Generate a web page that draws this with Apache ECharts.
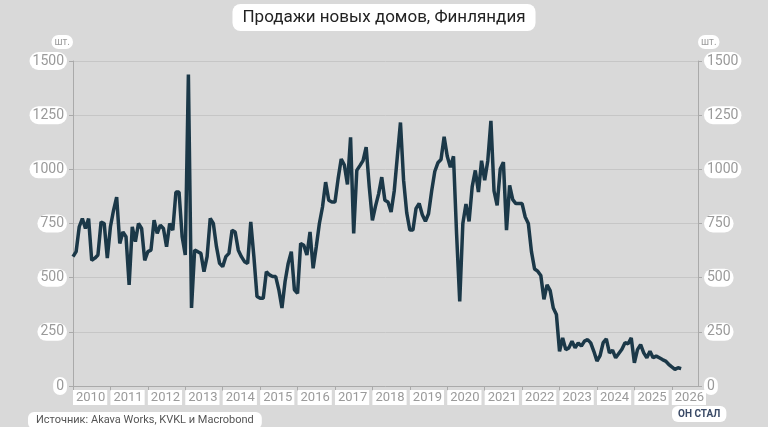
<!DOCTYPE html>
<html>
<head>
<meta charset="utf-8">
<script src="https://cdn.jsdelivr.net/npm/echarts@6/dist/echarts.min.js"></script>
<style>
  html, body { margin: 0; padding: 0; background: #d9d9d9; }
  #chart { width: 768px; height: 427px; }
</style>
</head>
<body>
<div id="chart"></div>
<script>
// продажи по месяцам, шт.
const startYear = 2010;
const y2010 = [597, 620, 735, 773, 727, 773, 580, 590, 605, 757, 750, 590];
const y2011 = [735, 811, 872, 658, 711, 689, 467, 735, 666, 750, 727, 580];
const y2012 = [620, 627, 765, 704, 742, 727, 643, 750, 719, 895, 895, 689];
const y2013 = [605, 1438, 360, 627, 620, 612, 528, 597, 773, 750, 643, 566];
const y2014 = [551, 597, 612, 719, 711, 627, 597, 574, 566, 757, 597, 413];
const y2015 = [405, 405, 528, 513, 505, 505, 444, 360, 482, 566, 620, 444];
const y2016 = [428, 658, 650, 605, 711, 543, 643, 750, 826, 941, 857, 849];
const y2017 = [849, 956, 1048, 1020, 930, 1148, 704, 995, 1017, 1040, 1102, 918];
const y2018 = [765, 830, 887, 964, 857, 849, 803, 900, 1060, 1216, 950, 800];
const y2019 = [720, 720, 820, 842, 790, 760, 795, 900, 990, 1030, 1045, 1150];
const y2020 = [1060, 1010, 1060, 700, 390, 750, 840, 760, 920, 995, 895, 1040];
const y2021 = [950, 1040, 1224, 900, 834, 1002, 1033, 719, 926, 860, 842, 842];
const y2022 = [842, 780, 750, 620, 540, 530, 510, 400, 467, 440, 360, 330];
const y2023 = [160, 222, 168, 176, 207, 176, 199, 184, 207, 214, 199, 160];
const y2024 = [115, 140, 200, 217, 153, 165, 130, 150, 170, 200, 195, 222];
const y2025 = [107, 168, 191, 153, 130, 161, 130, 138, 130, 122, 115, 100];
const y2026 = [88, 77, 84, 80];
const yTicks = [0, 250, 500, 750, 1000, 1250, 1500];

const years = [y2010, y2011, y2012, y2013, y2014, y2015, y2016, y2017, y2018,
  y2019, y2020, y2021, y2022, y2023, y2024, y2025, y2026];
const points = [];
years.forEach(function (arr, i) {
  arr.forEach(function (v, m) {
    points.push([startYear + i + m / 12, v]);
  });
});

const pill = {
  color: '#9a9a9a',
  fontSize: 14,
  fontFamily: 'Roboto',
  backgroundColor: '#fff',
  borderRadius: 9,
  padding: [2, 3]
};

let myChart = echarts.init(document.getElementById('chart'));
let option = {
  backgroundColor: '#d9d9d9',
  animation: false,
  title: {
    text: 'Продажи новых домов, Финляндия',
    left: 'center',
    top: 4,
    backgroundColor: '#fff',
    borderRadius: 8,
    padding: [5, 10],
    textStyle: { color: '#222', fontSize: 17, fontWeight: 'normal', fontFamily: 'Roboto' }
  },
  grid: { left: 73, right: 70, top: 61, bottom: 41 },
  xAxis: {
    type: 'value',
    min: 2010,
    max: 2026.7,
    interval: 1,
    axisLine: { show: true, lineStyle: { color: '#aaa' } },
    axisTick: { show: true, length: 5, lineStyle: { color: '#aaa' } },
    splitLine: { show: false },
    axisLabel: {
      showMaxLabel: false,
      align: 'left',
      formatter: function (v) { return String(v); },
      color: '#9a9a9a', fontSize: 13, fontFamily: 'Roboto',
      backgroundColor: '#fff',
      padding: [1, 2, 1, 3],
      margin: 4
    }
  },
  yAxis: [{
    type: 'value', min: 0, max: 1500, interval: 250,
    name: 'шт.', nameGap: 12,
    nameTextStyle: Object.assign({}, pill, { fontSize: 10, align: 'right' }),
    axisLine: { show: true, lineStyle: { color: '#aaa' } },
    axisTick: { show: true, length: 4, lineStyle: { color: '#aaa' } },
    splitLine: { lineStyle: { color: '#c6c6c6' } },
    axisLabel: Object.assign({}, pill, { margin: 6, formatter: function (v) { return yTicks.indexOf(v) >= 0 ? String(v) : ''; } })
  }, {
    type: 'value', min: 0, max: 1500, interval: 250, position: 'right',
    name: 'шт.', nameGap: 12,
    nameTextStyle: Object.assign({}, pill, { fontSize: 10, align: 'left' }),
    axisLine: { show: true, lineStyle: { color: '#aaa' } },
    axisTick: { show: true, length: 4, lineStyle: { color: '#aaa' } },
    splitLine: { show: false },
    axisLabel: Object.assign({}, pill, { margin: 6, formatter: function (v) { return String(v); } })
  }],
  series: [{
    type: 'line',
    data: points,
    showSymbol: false,
    lineStyle: { color: '#1b3848', width: 3.5 },
    itemStyle: { color: '#1b3848' }
  }],
  graphic: [{
    type: 'text', left: 28, top: 412,
    style: {
      text: 'Источник: Akava Works, KVKL и Macrobond',
      fill: '#555', fontSize: 11, fontFamily: 'Roboto',
      backgroundColor: '#fff', borderRadius: 6, padding: [3, 8]
    }
  }, {
    type: 'text', left: 672, top: 406,
    style: {
      text: 'ОН СТАЛ', fill: '#3a4a66', fontSize: 10, fontWeight: 'bold', fontFamily: 'Roboto',
      backgroundColor: '#fff', borderRadius: 6, padding: [3, 6]
    }
  }]
};
myChart.setOption(option);
window.addEventListener('resize', function () {
  myChart.resize();
});
</script>
</body>
</html>
